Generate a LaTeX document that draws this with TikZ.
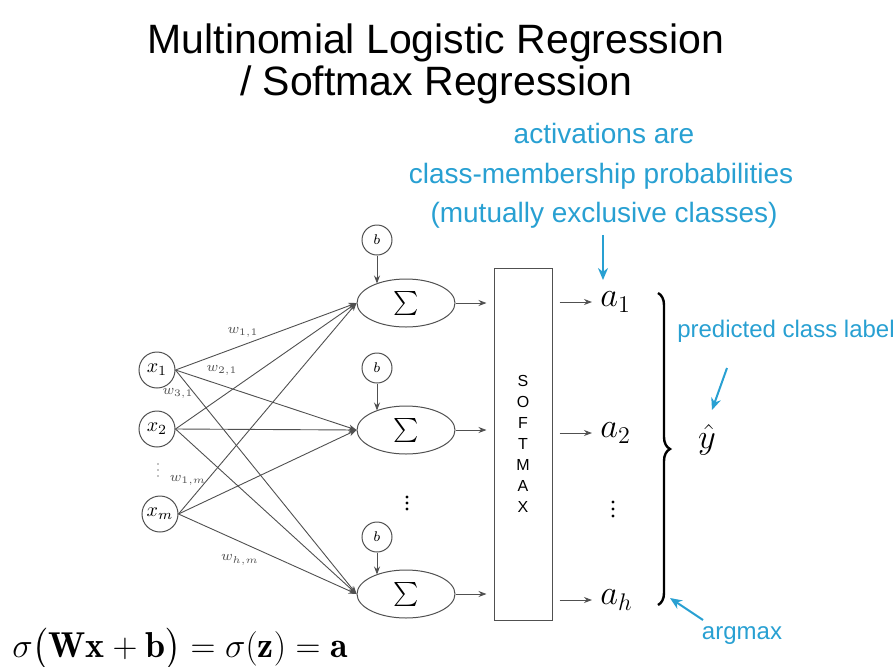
\documentclass[tikz,border=0pt]{standalone}
\usepackage{amsmath}
\usepackage{fontspec}
\newfontfamily\sansf{Liberation Sans}
\usetikzlibrary{shapes.geometric,arrows.meta,decorations.pathreplacing}
\definecolor{accent}{RGB}{40,160,210}
\definecolor{ink}{RGB}{80,80,80}

\begin{document}
\begin{tikzpicture}[x=0.5pt,y=-0.5pt,
  unit/.style={circle,draw=ink,line width=0.5pt,minimum size=18pt,inner sep=0pt,
    font=\fontsize{10}{12}\selectfont},
  bias/.style={circle,draw=ink,line width=0.5pt,minimum size=15pt,inner sep=0pt,
    font=\fontsize{7}{8}\selectfont},
  sumnode/.style={ellipse,draw=ink,line width=0.5pt,minimum width=49pt,
    minimum height=24pt,inner sep=0pt,font=\fontsize{13}{15}\selectfont},
  wire/.style={draw=ink,line width=0.45pt,-{Stealth[length=4pt,width=3pt]}},
  wlabel/.style={font=\fontsize{7.5}{9}\selectfont,text=ink,inner sep=0pt},
  outlabel/.style={font=\fontsize{17}{20}\selectfont,inner sep=1pt},
  heading/.style={font=\sansf\fontsize{20.5}{24}\selectfont,anchor=base},
  note/.style={text=accent,font=\sansf\fontsize{14}{17}\selectfont,anchor=base},
  smallnote/.style={text=accent,font=\sansf\fontsize{12}{14}\selectfont},
  notearrow/.style={draw=accent,line width=1pt,-{Stealth[length=6pt,width=5pt]}},
]
\useasboundingbox (0,0) rectangle (896,666);

% title
\node[heading] (title1) at (436,53) {Multinomial Logistic Regression};
\node[heading] (title2) at (436,95) {/ Softmax Regression};

% annotation above the outputs
\node[note] (act1) at (604,143) {activations are};
\node[note] (act2) at (601,183) {class-membership probabilities};
\node[note] (act3) at (604,222) {(mutually exclusive classes)};

% inputs
\node[unit] (x1) at (157,370) {$x_1$};
\node[unit] (x2) at (157,429) {$x_2$};
\node[unit] (xm) at (160,514) {$x_m$};
\foreach \y in {464,470,476}
  \fill[ink!70] (158,\y) circle[radius=0.45pt];

% net input units
\node[sumnode] (s1) at (406,303) {$\sum$};
\node[sumnode] (s2) at (406,430) {$\sum$};
\node[sumnode] (sh) at (406,594) {$\sum$};
\foreach \y in {497,503,509}
  \fill (407,\y) circle[radius=0.8pt];

% bias units
\node[bias] (b1) at (377,240) {$b$};
\node[bias] (b2) at (377,368) {$b$};
\node[bias] (bh) at (377,537) {$b$};
\draw[wire] (b1.south) -- (b1 |- s1.147);
\draw[wire] (b2.south) -- (b2 |- s2.147);
\draw[wire] (bh.south) -- (bh |- sh.147);

% weights
\foreach \i in {x1,x2,xm}
  \foreach \j in {s1,s2,sh}
    \draw[wire] (\i.east) -- (\j.west);
\node[wlabel] (w11) at (243,332) {$w_{1,1}$};
\node[wlabel] (w21) at (222,370) {$w_{2,1}$};
\node[wlabel] (w31) at (178,393) {$w_{3,1}$};
\node[wlabel] (w1m) at (188,480) {$w_{1,m}$};
\node[wlabel] (whm) at (240,560) {$w_{h,m}$};

% softmax layer
\node[draw=ink,line width=0.5pt,minimum width=29pt,minimum height=176pt,inner sep=0pt,
  align=center,font=\sansf\fontsize{8}{10.5}\selectfont] (box) at (523,444)
  {S\\O\\F\\T\\M\\A\\X};
\foreach \s in {s1,s2,sh}
  \draw[wire,shorten >=3.5pt] (\s.east) -- (\s.east -| box.west);

% outputs
\node[outlabel,anchor=west] (a1) at (598,302) {$a_1$};
\node[outlabel,anchor=west] (a2) at (598,433) {$a_2$};
\node[outlabel,anchor=west] (ah) at (598,600) {$a_h$};
\foreach \y in {502,509,516}
  \fill (613,\y) circle[radius=0.85pt];
\foreach \a in {a1,a2,ah}
  \draw[wire,shorten <=3.5pt,shorten >=3pt] (box.east |- \a.west) -- (\a.west);

% argmax over the activations
\draw[decorate,decoration={brace,amplitude=6pt},line width=1.2pt] (658,293) -- (658,605);
\node[outlabel] (yhat) at (707,440) {$\hat{y}$};

% annotations
\node[smallnote] (pred) at (786,331) {predicted class label};
\node[smallnote] (amax) at (742,636) {argmax};
\coordinate (actend) at (603,280);
\coordinate (predfrom) at (727,368);
\coordinate (predto) at (712,410);
\coordinate (amaxfrom) at (703,620);
\coordinate (amaxto) at (670,598);
\draw[notearrow] (act3.south -| actend) -- (actend);
\draw[notearrow] (predfrom) -- (predto);
\draw[notearrow] (amaxfrom) -- (amaxto);

% formula
\node[anchor=base west,inner sep=0pt,font=\fontsize{18}{21}\selectfont] (eq) at (12,657)
  {$\sigma\bigl(\mathbf{Wx}+\mathbf{b}\bigr)=\sigma(\mathbf{z})=\mathbf{a}$};
\end{tikzpicture}
\end{document}
